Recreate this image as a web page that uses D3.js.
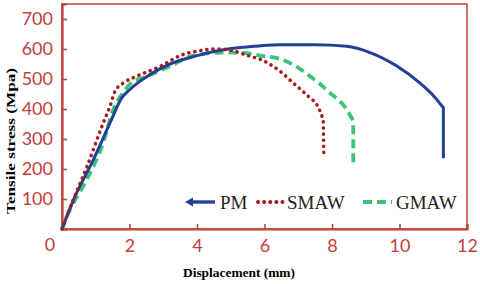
<!DOCTYPE html>
<html>
<head>
<meta charset="utf-8">
<script src="https://cdn.jsdelivr.net/npm/d3@7"></script>
<style>
  body { margin: 0; background: #fff; }
</style>
</head>
<body>
<div id="chart-area"></div>
<script>
// data: [displacement (mm), stress (MPa)]
// last point of each series is the vertical drop at fracture
var pm = [[0,0],[0.34,97],[0.93,231],[1.42,353],[1.77,437],[2.01,465],[2.61,515],[3.2,550],
  [4.0,578],[4.7,596],[5.5,607],[6.46,614],[7.5,614],[8.44,609],[9.13,588],[9.92,543],
  [10.6,487],[11.0,445],[11.3,404],[11.3,236]];
var smaw = [[0,0],[0.3,88],[0.73,205],[1.22,353],[1.42,409],[1.57,459],[1.82,487],[2.21,509],
  [2.96,545],[3.5,578],[4.0,593],[4.6,600],[5.0,596],[5.4,582],[6.07,555],[6.46,526],[6.85,487],
  [7.35,437],[7.55,415],[7.74,365],[7.76,236]];
var gmaw = [[0,0],[0.14,41],[0.73,164],[1.22,287],[1.52,398],[1.77,448],[2.01,482],[2.51,509],
  [3.3,548],[3.8,575],[4.7,588],[5.3,588],[5.9,577],[6.46,567],[6.76,553],[7.35,509],[7.94,454],
  [8.44,398],[8.63,360],[8.63,208]];
var xTicks = [2, 4, 6, 8, 10, 12];
var yTicks = [100, 200, 300, 400, 500, 600, 700];
var seriesNames = ["PM", "SMAW", "GMAW"];

var width = 480, height = 284;
var red = "#c1403d";

var svg = d3.select("#chart-area")
  .append("svg")
  .attr("width", width)
  .attr("height", height);

var x = d3.scaleLinear().domain([0, 12]).range([62, 467]);
var y = d3.scaleLinear().domain([0, 750]).range([229, 4]);

// frame
svg.append("rect")
  .attr("x", x(0)).attr("y", y(750))
  .attr("width", x(12) - x(0)).attr("height", y(0) - y(750))
  .attr("fill", "none")
  .attr("stroke", "#c0504d")
  .attr("stroke-width", 1.6);

var xAxis = d3.axisBottom(x).tickValues(xTicks).tickSize(-5).tickPadding(10);
var yAxis = d3.axisLeft(y).tickValues(yTicks).tickSize(-5).tickPadding(9);

var gx = svg.append("g").attr("transform", `translate(0, ${y(0)})`).call(xAxis);
var gy = svg.append("g").attr("transform", `translate(${x(0)}, 0)`).call(yAxis);

[gx, gy].forEach(g => {
  g.select(".domain").attr("stroke", red).attr("stroke-width", 2.2);
  g.selectAll(".tick line").attr("stroke", red).attr("stroke-width", 1.6);
  g.selectAll(".tick text")
    .attr("fill", red)
    .attr("font-family", "Lato, 'Open Sans', sans-serif")
    .attr("font-size", "18px");
});

// shared zero at the corner
svg.append("text")
  .attr("x", 50).attr("y", 251)
  .attr("text-anchor", "middle")
  .attr("fill", red)
  .attr("font-family", "Lato, 'Open Sans', sans-serif")
  .attr("font-size", "18px")
  .text("0");

// axis titles
svg.append("text")
  .attr("x", 239).attr("y", 277)
  .attr("text-anchor", "middle")
  .attr("font-family", "'Liberation Serif', 'Times New Roman', serif")
  .attr("font-weight", "bold")
  .attr("font-size", "13.5px")
  .attr("textLength", 112)
  .attr("lengthAdjust", "spacingAndGlyphs")
  .text("Displacement (mm)");

svg.append("text")
  .attr("transform", "translate(15, 141) rotate(-90)")
  .attr("text-anchor", "middle")
  .attr("font-family", "'Liberation Serif', 'Times New Roman', serif")
  .attr("font-weight", "bold")
  .attr("font-size", "13.5px")
  .attr("textLength", 146)
  .attr("lengthAdjust", "spacingAndGlyphs")
  .text("Tensile stress (Mpa)");

var curve = d3.line()
  .x(d => x(d[0]))
  .y(d => y(d[1]))
  .curve(d3.curveMonotoneX);

// smooth part, then a straight drop to the last point
function pathFor(pts) {
  var last = pts[pts.length - 1];
  return curve(pts.slice(0, -1)) + `L${x(last[0])},${y(last[1])}`;
}

var styles = {
  PM:   {color: "#233f97", width: 3, dash: null, cap: "butt"},
  SMAW: {color: "#a11b1f", width: 3.6, dash: "0.1 6", cap: "round"},
  GMAW: {color: "#3fc37a", width: 3.8, dash: "9 5", cap: "butt"}
};
var dataByName = {PM: pm, SMAW: smaw, GMAW: gmaw};

// draw order: green under, then blue, then red dots
["GMAW", "PM", "SMAW"].forEach(name => {
  var s = styles[name];
  svg.append("path")
    .attr("d", pathFor(dataByName[name]))
    .attr("fill", "none")
    .attr("stroke", s.color)
    .attr("stroke-width", s.width)
    .attr("stroke-linecap", s.cap)
    .attr("stroke-linejoin", "round")
    .attr("stroke-dasharray", s.dash);
});

// legend
var legendPos = {PM: [185, 215, 220], SMAW: [258, 283, 287], GMAW: [363, 392, 396]};
var legend = svg.append("g");
seriesNames.forEach(name => {
  var s = styles[name], p = legendPos[name];
  legend.append("line")
    .attr("x1", name == "PM" ? p[0] + 5 : p[0]).attr("x2", p[1])
    .attr("y1", 202).attr("y2", 202)
    .attr("stroke", s.color)
    .attr("stroke-width", s.width + 0.4)
    .attr("stroke-linecap", s.cap)
    .attr("stroke-dasharray", s.dash);
  if (name == "PM") {
    legend.append("path")
      .attr("d", `M${p[0]},202 L${p[0] + 8},197.5 L${p[0] + 8},206.5 Z`)
      .attr("fill", s.color);
  }
  legend.append("text")
    .attr("x", p[2]).attr("y", 209)
    .attr("font-family", "'Liberation Serif', 'Times New Roman', serif")
    .attr("font-size", "19px")
    .attr("fill", "#222")
    .text(name);
});
</script>
</body>
</html>
